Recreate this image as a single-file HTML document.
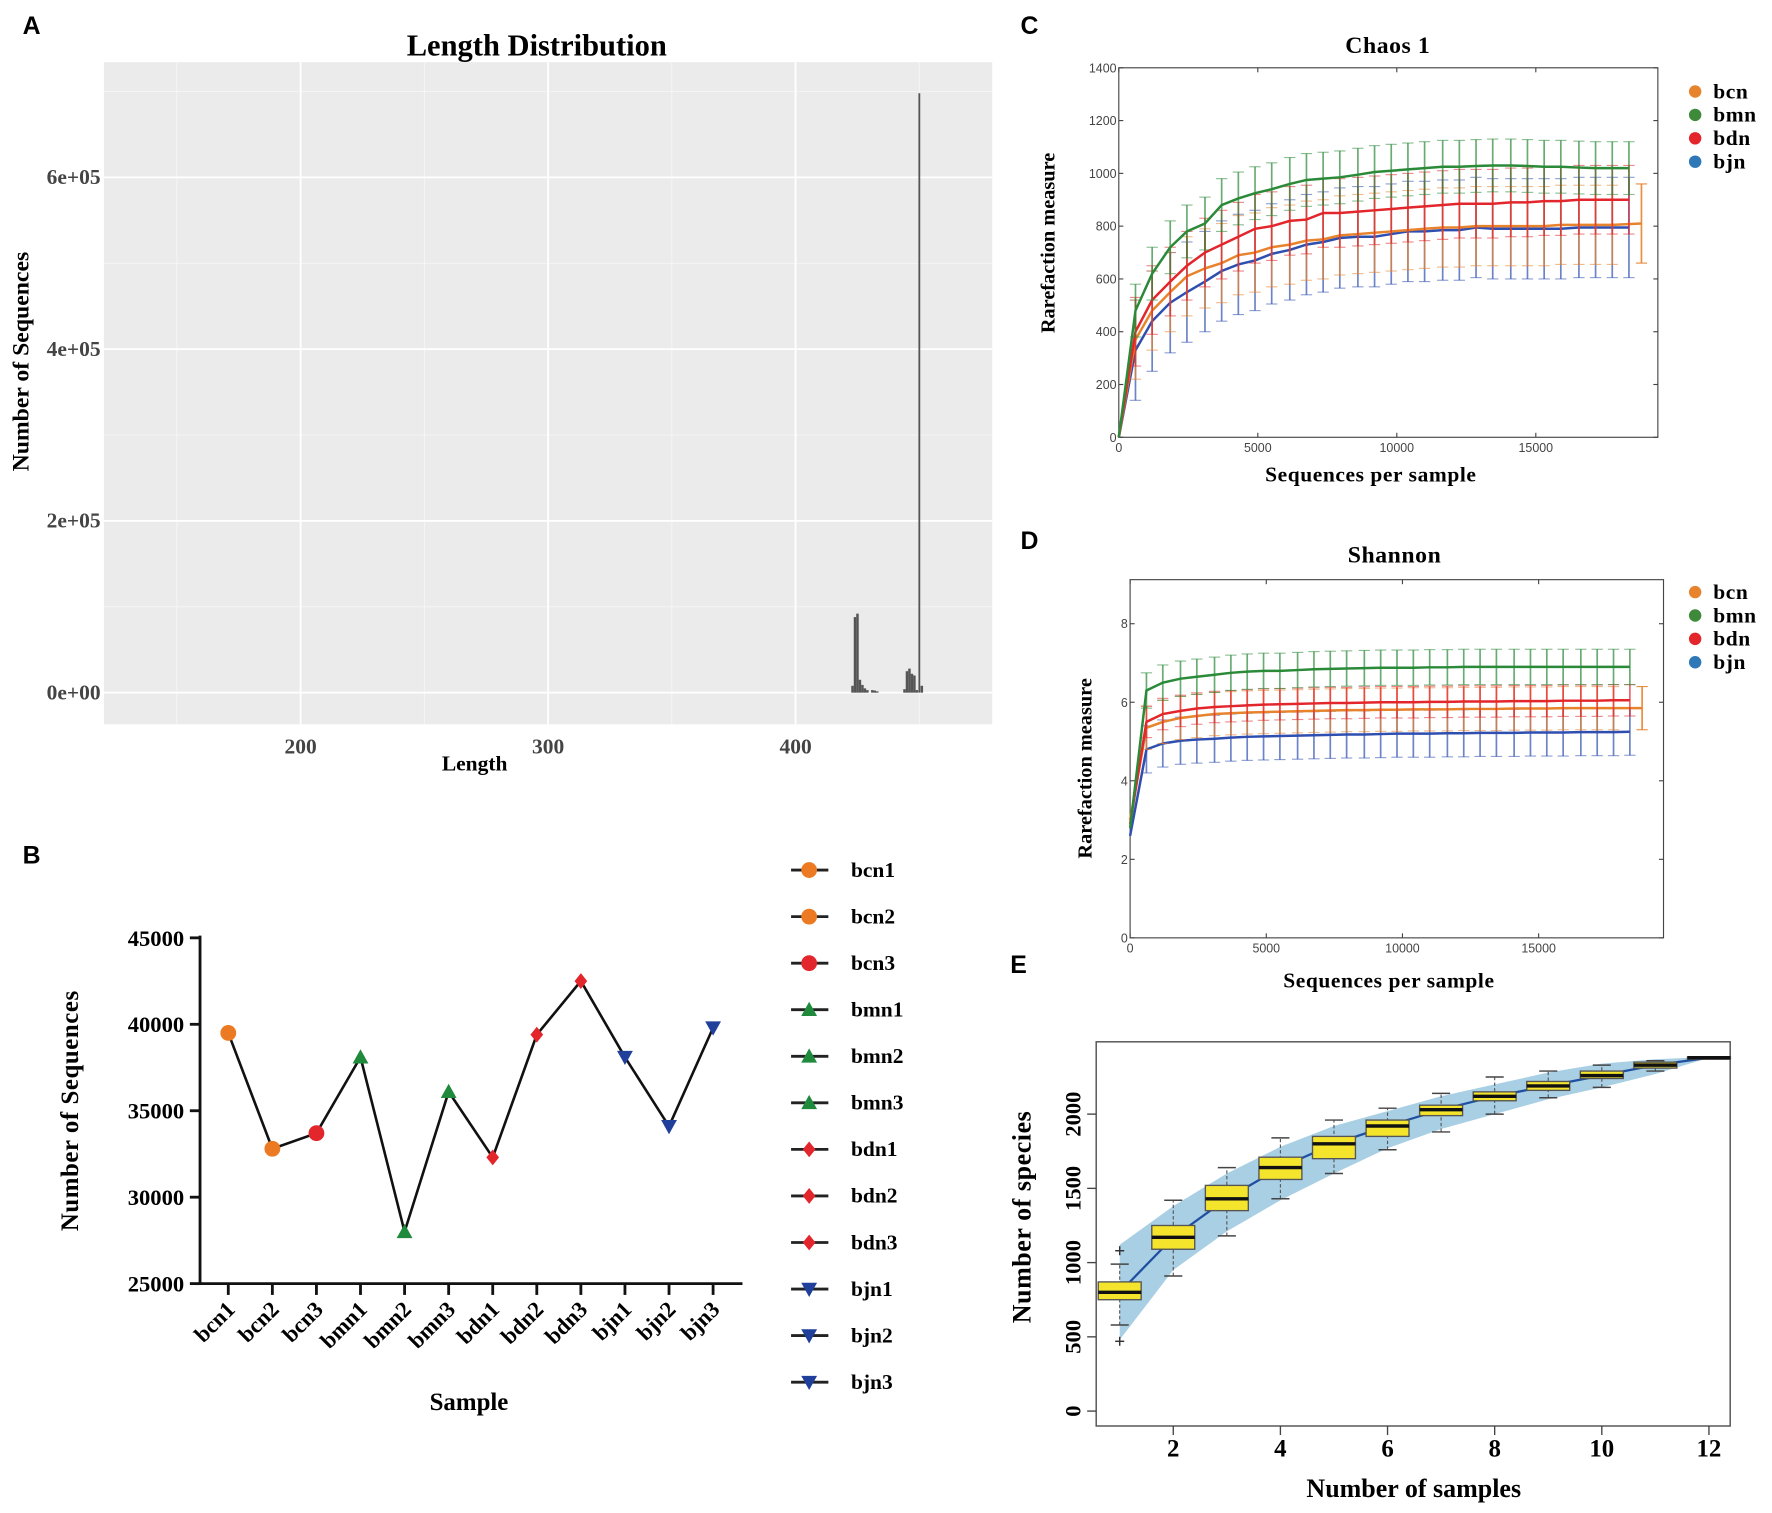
<!DOCTYPE html>
<html><head><meta charset="utf-8"><style>
html,body{margin:0;padding:0;background:#fff;}
svg{display:block;}
.serif{font-family:"Liberation Serif",serif;font-weight:bold;}
.sans{font-family:"Liberation Sans",sans-serif;}
</style></head><body>
<svg id="fig" width="1772" height="1513" viewBox="0 0 1568 1339" preserveAspectRatio="none" xmlns="http://www.w3.org/2000/svg">
<g id="pA"></g>
<g id="pB"></g>
<g id="pC"></g>
<g id="pD"></g>
<g id="pE"></g>
</svg>
<script>
// ---------- Panel A data ----------
const lenBins = [423,424,425,426,427,428,429,431,432,433,444,445,446,447,448,449,450,451];
const lenCounts = [8000,88000,92000,15000,9000,5000,3000,3000,2500,1500,4000,25000,28000,22000,20000,3000,698000,8000];
const aYTicks = [0,200000,400000,600000];
const aYTickLabels = ["0e+00","2e+05","4e+05","6e+05"];
const aXTicks = [200,300,400];
// ---------- Panel B data ----------
const bSamples = ["bcn1","bcn2","bcn3","bmn1","bmn2","bmn3","bdn1","bdn2","bdn3","bjn1","bjn2","bjn3"];
const bValues = [39500,32800,33700,38100,28000,36100,32300,39400,42500,38100,34100,39800];
const bShapes = ["circle","circle","circle","tri","tri","tri","diamond","diamond","diamond","tridown","tridown","tridown"];
const bColors = ["#ec7a22","#ec7a22","#e3262b","#1f8a3c","#1f8a3c","#1f8a3c","#e3262b","#e3262b","#e3262b","#1f3f9a","#1f3f9a","#1f3f9a"];
const bYTicks = [25000,30000,35000,40000,45000];
// ---------- Panel C data ----------
const cX = [0,600,1200,1850,2450,3100,3700,4300,4900,5500,6150,6750,7350,7950,8600,9200,9800,10400,11000,11650,12250,12850,13450,14100,14700,15300,15900,16550,17150,17750,18350];
const cBmn = [0,480,620,720,780,810,880,905,925,940,960,975,980,985,995,1005,1010,1015,1020,1025,1025,1028,1030,1030,1028,1025,1025,1022,1020,1020,1020];
const cBdn = [0,400,520,590,650,700,730,760,790,800,820,825,850,850,855,860,865,870,875,880,885,885,885,890,890,895,895,900,900,900,900];
const cBcn = [0,370,480,550,610,640,660,690,700,720,730,745,750,765,770,775,780,785,790,795,795,800,800,800,800,800,805,805,805,805,810];
const cBjn = [0,330,440,510,550,590,630,655,670,695,710,730,740,755,760,760,770,780,780,785,785,795,790,790,790,790,790,795,795,795,795];
const cErr = [150,100,130,190];
const cYTicks = [0,200,400,600,800,1000,1200,1400];
const cXTicks = [0,5000,10000,15000];
// ---------- Panel D data ----------
const dBmn = [2.8,6.3,6.5,6.6,6.65,6.7,6.75,6.78,6.8,6.8,6.82,6.84,6.85,6.86,6.87,6.88,6.88,6.88,6.89,6.89,6.9,6.9,6.9,6.9,6.9,6.9,6.9,6.9,6.9,6.9,6.9];
const dBdn = [2.9,5.5,5.7,5.78,5.84,5.88,5.9,5.92,5.94,5.95,5.96,5.97,5.98,5.98,5.99,6.0,6.0,6.0,6.01,6.01,6.02,6.02,6.02,6.03,6.03,6.03,6.04,6.04,6.04,6.05,6.05];
const dBcn = [3.0,5.35,5.5,5.6,5.65,5.7,5.72,5.74,5.75,5.76,5.77,5.78,5.79,5.8,5.8,5.81,5.81,5.82,5.82,5.82,5.83,5.83,5.83,5.84,5.84,5.84,5.85,5.85,5.85,5.85,5.85];
const dBjn = [2.6,4.8,4.95,5.02,5.05,5.07,5.1,5.12,5.13,5.14,5.15,5.16,5.17,5.18,5.18,5.19,5.2,5.2,5.2,5.21,5.21,5.22,5.22,5.22,5.23,5.23,5.23,5.24,5.24,5.24,5.25];
const dErr = [0.55,0.45,0.4,0.6];
const dYTicks = [0,2,4,6,8];
// ---------- Panel E data ----------
const eN = [1,2,3,4,5,6,7,8,9,10,11,12];
const eMed = [800,1170,1430,1640,1800,1920,2030,2120,2190,2260,2330,2380];
const eQ1 = [750,1090,1350,1560,1700,1850,1990,2090,2160,2240,2310,2375];
const eQ3 = [870,1250,1520,1710,1850,1960,2060,2150,2220,2290,2350,2385];
const eLo = [580,910,1180,1430,1600,1760,1880,2000,2110,2180,2290,2380];
const eHi = [990,1420,1640,1840,1960,2040,2140,2250,2290,2330,2360,2385];
const eBandHi = [1120,1380,1600,1780,1920,2020,2120,2200,2280,2340,2370,2385];
const eBandLo = [480,950,1210,1420,1600,1770,1900,2000,2100,2180,2270,2380];
const eOutliers = [[1,470],[1,1080]];
const eXTicks = [2,4,6,8,10,12];
const eYTicks = [0,500,1000,1500,2000];

const NS="http://www.w3.org/2000/svg";
function mk(parent,tag,attrs,text){const e=document.createElementNS(NS,tag);for(const k in attrs)e.setAttribute(k,attrs[k]);if(text!==undefined)e.textContent=text;parent.appendChild(e);return e;}

// ================= Panel A =================
(function(){
const g=document.getElementById('pA');
const L=92,R=878,T=55,B=641;
const xs=v=>266+(v-200)*2.19, ys=v=>613-v/200000*152;
let t=mk(g,'text',{x:20,y:30,'font-size':22,class:'sans','font-weight':'bold'},'A');

let r=mk(g,'rect',{x:L,y:T,width:R-L,height:B-T,fill:'#ebebeb'});

for(const v of [150,250,350,450]){mk(g,'line',{x1:xs(v),x2:xs(v),y1:T,y2:B,stroke:'#f6f6f6','stroke-width':0.8});}
for(const v of [100000,300000,500000,700000]){mk(g,'line',{x1:L,x2:R,y1:ys(v),y2:ys(v),stroke:'#f6f6f6','stroke-width':0.8});}
aXTicks.forEach(v=>{mk(g,'line',{x1:xs(v),x2:xs(v),y1:T,y2:B,stroke:'#fff','stroke-width':1.6});
 const l=mk(g,'text',{x:xs(v),y:667,'font-size':19,class:'serif','text-anchor':'middle',fill:'#444'},String(v));
 });
aYTicks.forEach((v,i)=>{mk(g,'line',{x1:L,x2:R,y1:ys(v),y2:ys(v),stroke:'#fff','stroke-width':1.6});
 const l=mk(g,'text',{x:89,y:ys(v)+6,'font-size':19,class:'serif','text-anchor':'end',fill:'#444'},aYTickLabels[i]);
 });
lenBins.forEach((b,i)=>{const x=xs(b-0.5);const w=(b===450)?1.6:2.2;
 const bar=mk(g,'rect',{x:b===450?xs(b)-0.8:x,y:ys(lenCounts[i]),width:w,height:ys(0)-ys(lenCounts[i]),fill:'#555'});
 });
t=mk(g,'text',{x:475,y:49,'font-size':27,class:'serif','text-anchor':'middle'},'Length Distribution');

t=mk(g,'text',{x:420,y:682,'font-size':19,class:'serif','text-anchor':'middle'},'Length');

t=mk(g,'text',{x:0,y:0,'font-size':21,class:'serif','text-anchor':'middle',transform:'translate(25,320) rotate(-90)'},'Number of Sequences');

})();

// ================= Panel B =================
function marker(g,shape,x,y,c,s){
 if(shape==='circle')return mk(g,'circle',{cx:x,cy:y,r:s,fill:c});
 if(shape==='tri')return mk(g,'polygon',{points:`${x},${y-s} ${x-s},${y+s*0.8} ${x+s},${y+s*0.8}`,fill:c});
 if(shape==='tridown')return mk(g,'polygon',{points:`${x},${y+s} ${x-s},${y-s*0.8} ${x+s},${y-s*0.8}`,fill:c});
 return mk(g,'polygon',{points:`${x},${y-s} ${x+s*0.8},${y} ${x},${y+s} ${x-s*0.8},${y}`,fill:c});
}
(function(){
const g=document.getElementById('pB');
const xs=i=>202+i*39, ys=v=>1136-(v-25000)/5000*76.5;
let t=mk(g,'text',{x:20,y:764,'font-size':22,class:'sans','font-weight':'bold'},'B');

let a=mk(g,'line',{x1:177,x2:177,y1:828,y2:1137,stroke:'#111','stroke-width':2.5});

a=mk(g,'line',{x1:176,x2:657,y1:1136,y2:1136,stroke:'#111','stroke-width':2.5});

bYTicks.forEach(v=>{mk(g,'line',{x1:168,x2:177,y1:ys(v),y2:ys(v),stroke:'#111','stroke-width':2.5});
 const l=mk(g,'text',{x:163,y:ys(v)+7,'font-size':20,class:'serif','text-anchor':'end'},String(v));
 });
bSamples.forEach((s,i)=>{mk(g,'line',{x1:xs(i),x2:xs(i),y1:1136,y2:1146,stroke:'#111','stroke-width':2.5});
 const l=mk(g,'text',{x:0,y:0,'font-size':20,class:'serif','text-anchor':'end',transform:`translate(${xs(i)+7},${1160}) rotate(-45)`},s);
 });
const ln=mk(g,'polyline',{points:bValues.map((v,i)=>xs(i)+','+ys(v)).join(' '),fill:'none',stroke:'#111','stroke-width':2.3});

bValues.forEach((v,i)=>{const m=marker(g,bShapes[i],xs(i),ys(v),bColors[i],7);
 });
t=mk(g,'text',{x:415,y:1248,'font-size':22,class:'serif','text-anchor':'middle'},'Sample');

t=mk(g,'text',{x:0,y:0,'font-size':22,class:'serif','text-anchor':'middle','letter-spacing':'0.5',transform:'translate(69,983) rotate(-90)'},'Number of Sequences');

bSamples.forEach((s,i)=>{const y=770+i*41.2;
 const eg=mk(g,'g',{});
 mk(eg,'line',{x1:700,x2:733,y1:y,y2:y,stroke:'#222','stroke-width':2.5});
 marker(eg,bShapes[i],716,y,bColors[i],7);
 mk(eg,'text',{x:753,y:y+6,'font-size':19,class:'serif'},s);});
})();

// ================= Panels C/D helper =================
const grpNames=["bcn","bmn","bdn","bjn"];
const grpColors=["#e8832d","#2a8a38","#e3262b","#2f4fb0"];
const legendDots=["#e8832d","#3f8a3a","#e3262b","#2f78b8"];
function rarePanel(g,o){
 const xs=v=>o.L+v/1000*o.px, ys=v=>o.B-(v-0)/o.ymaxTickVal*(o.B-o.yTopTick);
 let t=mk(g,'text',{x:o.lx,y:o.ly,'font-size':22,class:'sans','font-weight':'bold'},o.letter);
 
 let r=mk(g,'rect',{x:o.L,y:o.T,width:o.R-o.L,height:o.B-o.T,fill:'#fff',stroke:'#444','stroke-width':1});
 
 o.yticks.forEach(v=>{mk(g,'line',{x1:o.L,x2:o.L+4,y1:ys(v),y2:ys(v),stroke:'#444'});mk(g,'line',{x1:o.R,x2:o.R-4,y1:ys(v),y2:ys(v),stroke:'#444'});
  const l=mk(g,'text',{x:o.L-2,y:ys(v)+4,'font-size':11,class:'sans','text-anchor':'end',fill:'#444'},String(v));
  });
 cXTicks.forEach(v=>{mk(g,'line',{x1:xs(v),x2:xs(v),y1:o.B,y2:o.B-4,stroke:'#444'});mk(g,'line',{x1:xs(v),x2:xs(v),y1:o.T,y2:o.T+4,stroke:'#444'});
  const l=mk(g,'text',{x:xs(v),y:o.B+13,'font-size':11,class:'sans','text-anchor':'middle',fill:'#444'},String(v));
  });
 [3,0,2,1].forEach(k=>{const ser=o.series[k];const xsArr=cX.slice();
  if(k===0){xsArr[xsArr.length-1]=18800;}
  const sg=mk(g,'g',{});
  ser.forEach((v,i)=>{if(i===0)return;const e=o.err[k];const last=i===ser.length-1&&k===0;
   mk(sg,'line',{x1:xs(xsArr[i]),x2:xs(xsArr[i]),y1:ys(v-e),y2:ys(v+e),stroke:grpColors[k],'stroke-width':1.5,opacity:last?0.9:0.7});
   [v-e,v+e].forEach(w=>mk(sg,'line',{x1:xs(xsArr[i])-5,x2:xs(xsArr[i])+5,y1:ys(w),y2:ys(w),stroke:grpColors[k],'stroke-width':1,opacity:last?0.9:0.55}));});
  mk(sg,'polyline',{points:ser.map((v,i)=>xs(xsArr[i])+','+ys(v)).join(' '),fill:'none',stroke:grpColors[k],'stroke-width':2.2});
 });
 t=mk(g,'text',{x:o.tx,y:o.ty,'font-size':21,class:'serif','text-anchor':'middle','letter-spacing':'0.5'},o.title);
 
 t=mk(g,'text',{x:o.xtx,y:o.xty,'font-size':19,class:'serif','text-anchor':'middle','letter-spacing':'0.5'},'Sequences per sample');
 
 t=mk(g,'text',{x:0,y:0,'font-size':18,class:'serif','text-anchor':'middle',transform:`translate(${o.ytx},${o.yty}) rotate(-90)`},'Rarefaction measure');
 
 grpNames.forEach((n,i)=>{const y=o.legY+i*20.7;const eg=mk(g,'g',{});
  
  mk(eg,'circle',{cx:1500,cy:y,r:5.5,fill:legendDots[i]});
  mk(eg,'text',{x:1516,y:y+6,'font-size':19,class:'serif','letter-spacing':'0.5'},n);});
}
rarePanel(document.getElementById('pC'),{letter:'C',lx:903,ly:30,L:990,R:1467,T:60,B:387,px:24.6,ymaxTickVal:1400,yTopTick:60,
 yticks:cYTicks,series:[cBcn,cBmn,cBdn,cBjn],err:cErr,title:'Chaos 1',tx:1228,ty:47,xtx:1213,xty:426,ytx:933,yty:215,legY:81});
rarePanel(document.getElementById('pD'),{letter:'D',lx:903,ly:486,L:1000,R:1472,T:513,B:830,px:24.1,ymaxTickVal:8,yTopTick:552,
 yticks:dYTicks,series:[dBcn,dBmn,dBdn,dBjn],err:dErr,title:'Shannon',tx:1234,ty:498,xtx:1229,xty:874,ytx:966,yty:680,legY:524});

// ================= Panel E =================
(function(){
const g=document.getElementById('pE');
const L=970,R=1531,T=922,B=1262;
const xs=n=>990.8+(n-1)*47.4, ys=v=>1248.8-v/500*65.7;
let t=mk(g,'text',{x:894,y:861,'font-size':22,class:'sans','font-weight':'bold'},'E');

let r=mk(g,'rect',{x:L,y:T,width:R-L,height:B-T,fill:'#fff',stroke:'#555','stroke-width':1.3});

let pts=eN.map((n,i)=>xs(n)+','+ys(eBandHi[i])).concat(eN.slice().reverse().map((n,j)=>xs(n)+','+ys(eBandLo[eN.length-1-j])));
const band=mk(g,'polygon',{points:pts.join(' '),fill:'#a9cfe4'});

const ml=mk(g,'polyline',{points:eN.map((n,i)=>xs(n)+','+ys(eMed[i])).join(' '),fill:'none',stroke:'#1f4fa0','stroke-width':2});

eN.forEach((n,i)=>{const x=xs(n),w=19;const bg=mk(g,'g',{});
 
 mk(bg,'line',{x1:x,x2:x,y1:ys(eLo[i]),y2:ys(eHi[i]),stroke:'#555','stroke-width':1,'stroke-dasharray':'3,2'});
 [eLo[i],eHi[i]].forEach(v=>mk(bg,'line',{x1:x-8,x2:x+8,y1:ys(v),y2:ys(v),stroke:'#444','stroke-width':1.3}));
 mk(bg,'rect',{x:x-w,y:ys(eQ3[i]),width:2*w,height:Math.max(2,ys(eQ1[i])-ys(eQ3[i])),fill:'#f4e52c',stroke:'#555','stroke-width':1.2});
 mk(bg,'line',{x1:x-w,x2:x+w,y1:ys(eMed[i]),y2:ys(eMed[i]),stroke:'#111','stroke-width':3});});
eOutliers.forEach(o=>{const x=xs(o[0]),y=ys(o[1]);const og=mk(g,'g',{});
 
 mk(og,'line',{x1:x-4,x2:x+4,y1:y,y2:y,stroke:'#333','stroke-width':1.3});mk(og,'line',{x1:x,x2:x,y1:y-4,y2:y+4,stroke:'#333','stroke-width':1.3});});
eYTicks.forEach(v=>{mk(g,'line',{x1:L-8,x2:L,y1:ys(v),y2:ys(v),stroke:'#444','stroke-width':1.2});
 const l=mk(g,'text',{x:0,y:0,'font-size':20,class:'serif','text-anchor':'middle',transform:`translate(${L-14},${ys(v)}) rotate(-90)`},String(v));
 });
eXTicks.forEach(v=>{mk(g,'line',{x1:xs(v),x2:xs(v),y1:B,y2:B+8,stroke:'#444','stroke-width':1.2});
 const l=mk(g,'text',{x:xs(v),y:1289,'font-size':22,class:'serif','text-anchor':'middle'},String(v));
 });
t=mk(g,'text',{x:1251,y:1325,'font-size':23,class:'serif','text-anchor':'middle'},'Number of samples');

t=mk(g,'text',{x:0,y:0,'font-size':23,class:'serif','text-anchor':'middle','letter-spacing':'0.5',transform:'translate(912,1077) rotate(-90)'},'Number of species');

})();
</script>
</body></html>
